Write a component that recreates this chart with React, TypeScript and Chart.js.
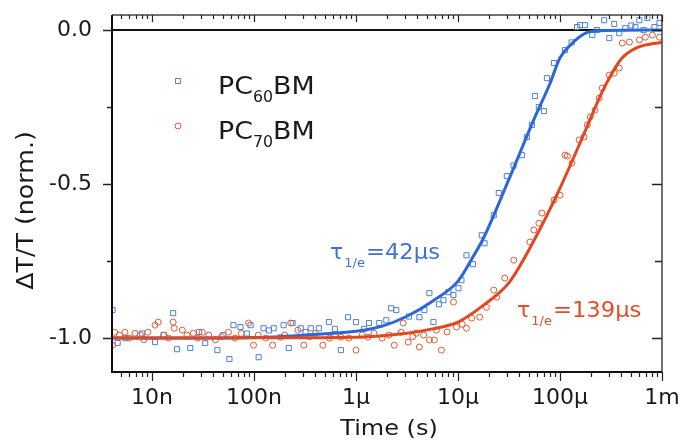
import React, { useEffect, useRef } from "react";
import { Chart, registerables } from "chart.js";

Chart.register(...registerables);

// ---- data (time in seconds, ΔT/T normalised) ----
const pc60Time = [
  4.1e-9, 4.6e-9, 1.07e-8, 1.61e-8, 1.76e-8, 2.37e-8, 3.32e-8, 4.37e-8, 5.74e-8, 6.28e-8,
  7.36e-8, 9.24e-8, 1.11e-7, 1.24e-7, 1.56e-7, 1.95e-7, 2.19e-7, 2.39e-7, 2.87e-7, 3.6e-7,
  4.32e-7, 5.42e-7, 7.11e-7, 8.34e-7, 1.0e-6, 1.34e-6, 1.69e-6, 1.98e-6, 2.21e-6, 2.48e-6,
  4.18e-6, 4.68e-6, 5.24e-6, 5.74e-6, 7.2e-6, 8.06e-6, 1.01e-5, 1.08e-5, 1.21e-5, 1.71e-5,
  1.82e-5, 2.24e-5, 2.51e-5, 3.01e-5, 4.23e-5, 4.73e-5, 5.3e-5, 5.68e-5, 6.95e-5, 7.44e-5,
  8.73e-5, 1.12e-4, 1.47e-4, 1.57e-4, 1.76e-4, 2.07e-4, 2.71e-4, 3.04e-4, 3.81e-4, 4.37e-4,
  5.48e-4, 6.0e-4, 7.19e-4, 8.43e-4, 9.45e-4,
  // points in the dense band along the fit
  5.5e-9, 8e-9, 1.3e-8, 2.9e-8, 5e-8, 8.5e-8, 1.4e-7, 3.2e-7, 6.2e-7, 1.2e-6,
  3.3e-6, 6.5e-6, 9e-6, 1.4e-5, 3.5e-5, 6.2e-5, 1.3e-4, 2.3e-4, 3.4e-4, 5e-4, 6.6e-4,
];
const pc60Value = [
  -0.909, -1.016, -1.013, -0.919, -1.036, -1.032, -1.016, -1.039, -1.068, -0.958,
  -0.964, -0.958, -1.062, -0.968, -0.968, -0.958, -1.032, -0.951, -0.968, -0.968,
  -0.968, -0.948, -1.039, -0.932, -0.948, -0.951, -0.951, -0.942, -0.903, -0.909,
  -0.932, -0.909, -0.854, -0.948, -0.877, -0.851, -0.838, -0.812, -0.731, -0.666,
  -0.692, -0.601, -0.529, -0.474, -0.406, -0.347, -0.308, -0.214, -0.263, -0.156,
  -0.107, -0.065, 0.01, 0.016, 0.016, -0.016, 0.032, -0.026, -0.01, 0.006,
  0.01, 0.032, 0.039, 0.01, 0.023,
  -1.0, -0.985, -0.99, -0.98, -0.99, -0.985, -0.975, -0.98, -0.97, -0.97,
  -0.93, -0.89, -0.86, -0.76, -0.44, -0.25, -0.04, 0.0, 0.02, 0.015, 0.0,
];
const pc70Time = [
  4.1e-9, 4.3e-9, 5.42e-9, 6.8e-9, 9.1e-9, 1.07e-8, 1.15e-8, 1.61e-8, 1.65e-8, 1.98e-8,
  2.54e-8, 3.11e-8, 4.18e-8, 5.61e-8, 8.83e-8, 9.89e-8, 1.52e-7, 1.82e-7, 2.29e-7, 2.69e-7,
  3.08e-7, 4.73e-7, 7.11e-7, 1.0e-6, 1.31e-6, 1.5e-6, 2.37e-6, 2.77e-6, 2.9e-6, 3.25e-6,
  3.9e-6, 4.18e-6, 5.24e-6, 5.86e-6, 6.14e-6, 6.88e-6, 9.03e-6, 9.66e-6, 1.21e-5, 1.36e-5,
  1.63e-5, 2.24e-5, 2.4e-5, 2.87e-5, 3.52e-5, 5.06e-5, 5.54e-5, 6.21e-5, 6.65e-5, 8.73e-5,
  1.0e-4, 1.12e-4, 1.18e-4, 1.31e-4, 1.54e-4, 1.72e-4, 1.85e-4, 1.98e-4, 2.21e-4, 2.42e-4,
  2.59e-4, 3.04e-4, 3.4e-4, 3.81e-4, 4.08e-4, 4.79e-4, 6.0e-4, 6.87e-4, 8.05e-4, 9.45e-4,
  // points in the dense band along the fit
  4.8e-9, 6e-9, 7.7e-9, 8.3e-9, 1.3e-8, 1.45e-8, 2.2e-8, 2.8e-8, 3.6e-8, 4.8e-8,
  6.5e-8, 7.5e-8, 1.1e-7, 1.3e-7, 2.0e-7, 3.5e-7, 4.0e-7, 5.5e-7, 6.2e-7, 8.5e-7,
  1.15e-6, 1.8e-6, 2.1e-6, 3.6e-6, 4.6e-6, 7.8e-6, 1.1e-5, 1.9e-5,
];
const pc70Value = [
  -1.023, -0.981, -0.981, -0.984, -0.981, -0.958, -0.948, -0.948, -0.968, -0.974,
  -0.984, -0.981, -1.006, -0.981, -0.951, -1.023, -1.023, -0.997, -0.951, -0.974,
  -1.023, -1.023, -0.997, -1.039, -0.997, -0.984, -1.023, -0.981, -0.951, -1.013,
  -0.984, -1.029, -1.006, -1.006, -0.974, -1.039, -0.883, -0.964, -0.968, -0.935,
  -0.932, -0.844, -0.867, -0.805, -0.747, -0.688, -0.649, -0.627, -0.594, -0.552,
  -0.536, -0.406, -0.409, -0.432, -0.357, -0.347, -0.308, -0.282, -0.26, -0.221,
  -0.188, -0.146, -0.14, -0.123, -0.042, -0.039, -0.032, -0.023, -0.016, -0.023,
  -0.99, -1.0, -0.99, -1.005, -0.99, -1.0, -0.99, -1.0, -0.99, -0.995,
  -1.0, -0.985, -0.99, -1.0, -0.99, -0.995, -0.985, -1.0, -0.99, -1.0,
  -0.99, -1.0, -0.99, -0.995, -0.99, -0.98, -0.955, -0.9,
];
const fit60Time = [
  4.05e-9, 1e-8, 1e-7, 3.16e-7, 1e-6, 1.78e-6, 3.16e-6, 5.62e-6, 1e-5, 1.41e-5,
  1.78e-5, 3.16e-5, 5.62e-5, 7.94e-5, 1e-4, 1.26e-4, 1.78e-4, 2.51e-4, 1e-3,
];
const fit60Value = [
  -1.0, -1.0, -0.998, -0.99, -0.978, -0.962, -0.929, -0.88, -0.815, -0.735,
  -0.675, -0.484, -0.286, -0.175, -0.09, -0.049, -0.01, -0.002, 0.0,
];
const fit70Time = [
  4.05e-9, 1e-8, 1e-7, 1e-6, 3.16e-6, 5.62e-6, 1e-5, 1.78e-5, 3.16e-5, 5.62e-5,
  1e-4, 1.78e-4, 2.51e-4, 3.16e-4, 3.98e-4, 5.62e-4, 1e-3,
];
const fit70Value = [
  -1.0, -1.0, -0.999, -0.997, -0.984, -0.97, -0.948, -0.893, -0.82, -0.68,
  -0.513, -0.325, -0.21, -0.146, -0.094, -0.058, -0.039,
];

const xTickValues = [1e-8, 1e-7, 1e-6, 1e-5, 1e-4, 1e-3];
const xTickLabels = ["10n", "100n", "1µ", "10µ", "100µ", "1m"];
const yTickValues = [-1, -0.5, 0];
const yTickLabels = ["-1.0", "-0.5", "0.0"];
const yMinorValues = [-1, -0.75, -0.5, -0.25, 0];

const legendParts = [
  ["PC", "60", "BM"],
  ["PC", "70", "BM"],
];
const tauParts = [
  ["τ", "1/e", "=42µs"],
  ["τ", "1/e", "=139µs"],
];
const xTitle = "Time (s)";
const yTitle = "ΔT/T (norm.)";

const BLUE_LINE = "#2c67d8";
const BLUE_MARK = "#4d80d6";
const BLUE_TEXT = "#4272d0";
const RED_LINE = "#e2471f";
const RED_MARK = "#e25a32";
const RED_TEXT = "#e24d2c";
const FONT = "'DejaVu Sans', sans-serif";

function toPoints(xs: number[], ys: number[]) {
  return xs.map((x, i) => ({ x, y: ys[i] }));
}

function stretchedText(
  ctx: CanvasRenderingContext2D,
  text: string,
  x: number,
  y: number,
  size: number,
  color: string,
  sx: number
) {
  ctx.save();
  ctx.font = `${size}px ${FONT}`;
  ctx.fillStyle = color;
  ctx.textAlign = "left";
  ctx.textBaseline = "alphabetic";
  ctx.translate(x, y);
  ctx.scale(sx, 1);
  ctx.fillText(text, 0, 0);
  const w = ctx.measureText(text).width * sx;
  ctx.restore();
  return w;
}

const decorPlugin = {
  id: "decor",
  beforeDatasetsDraw(chart: any) {
    const { ctx, chartArea: a, scales } = chart;
    const y0 = scales.y.getPixelForValue(0);
    ctx.save();
    ctx.strokeStyle = "#111";
    ctx.lineWidth = 2;
    ctx.beginPath();
    ctx.moveTo(a.left, y0);
    ctx.lineTo(a.right, y0);
    ctx.stroke();
    ctx.restore();
  },
  afterDraw(chart: any) {
    const { ctx, chartArea: a, scales } = chart;
    const xs = scales.x;
    const ys = scales.y;
    ctx.save();
    // frame
    ctx.strokeStyle = "#444";
    ctx.lineWidth = 1.5;
    ctx.beginPath();
    ctx.moveTo(a.left, a.top);
    ctx.lineTo(a.right, a.top);
    ctx.lineTo(a.right, a.bottom);
    ctx.stroke();
    ctx.strokeStyle = "#111";
    ctx.lineWidth = 2;
    ctx.beginPath();
    ctx.moveTo(a.left, a.top);
    ctx.lineTo(a.left, a.bottom);
    ctx.lineTo(a.right, a.bottom);
    ctx.stroke();

    // y ticks
    ctx.lineWidth = 1.5;
    ctx.strokeStyle = "#222";
    for (const v of yMinorValues) {
      const py = Math.round(ys.getPixelForValue(v)) + 0.5;
      const major = Math.abs(v * 2 - Math.round(v * 2)) < 1e-6;
      ctx.beginPath();
      ctx.moveTo(a.left - (major ? 9 : 5), py);
      ctx.lineTo(a.left, py);
      ctx.moveTo(a.right - (major ? 10 : 7), py);
      ctx.lineTo(a.right, py);
      ctx.stroke();
    }
    // x ticks (decades + minor)
    ctx.lineWidth = 1.2;
    for (let d = -9; d <= -3; d++) {
      for (let k = 1; k <= 9; k++) {
        const v = k * Math.pow(10, d);
        if (v < xs.min * 0.999 || v > xs.max * 1.001) continue;
        const px = Math.round(xs.getPixelForValue(v)) + 0.5;
        const major = k === 1;
        ctx.beginPath();
        ctx.moveTo(px, a.bottom);
        ctx.lineTo(px, a.bottom + (major ? 9 : 5));
        ctx.moveTo(px, a.top);
        ctx.lineTo(px, a.top + (major ? 7 : 4));
        ctx.stroke();
      }
    }
    ctx.restore();

    // axis titles
    ctx.save();
    ctx.font = `22px ${FONT}`;
    ctx.fillStyle = "#1a1a1a";
    ctx.textAlign = "center";
    ctx.textBaseline = "middle";
    ctx.translate((a.left + a.right) / 2 + 2, 429);
    ctx.scale(1.09, 1);
    ctx.fillText(xTitle, 0, 0);
    ctx.restore();

    ctx.save();
    ctx.font = `23px ${FONT}`;
    ctx.fillStyle = "#1a1a1a";
    ctx.textAlign = "center";
    ctx.textBaseline = "middle";
    ctx.translate(27, (a.top + a.bottom) / 2 + 17);
    ctx.rotate(-Math.PI / 2);
    ctx.scale(1.1, 1);
    ctx.fillText(yTitle, 0, 0);
    ctx.restore();

    // legend
    const legendColors = [BLUE_MARK, RED_MARK];
    const legendY = [94, 139];
    legendParts.forEach((parts, i) => {
      const markY = legendY[i] - 13;
      ctx.save();
      ctx.strokeStyle = legendColors[i];
      ctx.lineWidth = 1;
      ctx.beginPath();
      if (i === 0) ctx.rect(175.5, markY - 2.5, 5, 5);
      else ctx.arc(178, markY, 3, 0, Math.PI * 2);
      ctx.stroke();
      ctx.restore();
      let x = 218;
      x += stretchedText(ctx, parts[0], x, legendY[i], 24, "#1a1a1a", 1.12);
      x += stretchedText(ctx, parts[1], x, legendY[i] + 8, 15, "#1a1a1a", 1.05);
      stretchedText(ctx, parts[2], x, legendY[i], 24, "#1a1a1a", 1.12);
    });

    // tau annotations
    const tauPos = [
      [330, 259, BLUE_TEXT],
      [517, 317, RED_TEXT],
    ];
    tauParts.forEach((parts, i) => {
      const [tx, ty, col] = tauPos[i] as [number, number, string];
      let x = tx;
      x += stretchedText(ctx, parts[0], x, ty, 22, col, 1.0) + 1;
      x += stretchedText(ctx, parts[1], x, ty + 8, 13, col, 1.0) + 1;
      stretchedText(ctx, parts[2], x, ty, 22, col, 1.03);
    });
  },
};

export default function App() {
  const ref = useRef<HTMLCanvasElement | null>(null);
  useEffect(() => {
    if (!ref.current) return;
    const chart = new Chart(ref.current, {
      type: "scatter",
      data: {
        datasets: [
          {
            label: "PC70BM fit",
            data: toPoints(fit70Time, fit70Value),
            showLine: true,
            borderColor: RED_LINE,
            borderWidth: 3,
            pointRadius: 0,
            cubicInterpolationMode: "monotone",
            order: 0,
          },
          {
            label: "PC60BM fit",
            data: toPoints(fit60Time, fit60Value),
            showLine: true,
            borderColor: BLUE_LINE,
            borderWidth: 3,
            pointRadius: 0,
            cubicInterpolationMode: "monotone",
            order: 1,
          },
          {
            label: "PC60BM",
            data: toPoints(pc60Time, pc60Value),
            pointStyle: "rect",
            pointRadius: 3.6,
            borderWidth: 1,
            borderColor: BLUE_MARK,
            backgroundColor: "rgba(0,0,0,0)",
            order: 3,
          },
          {
            label: "PC70BM",
            data: toPoints(pc70Time, pc70Value),
            pointStyle: "circle",
            pointRadius: 3,
            borderWidth: 1,
            borderColor: RED_MARK,
            backgroundColor: "rgba(0,0,0,0)",
            order: 2,
          },
        ],
      },
      options: {
        animation: false,
        responsive: false,
        maintainAspectRatio: false,
        layout: { padding: { left: 0, right: 21, top: 15, bottom: 0 } },
        plugins: { legend: { display: false }, tooltip: { enabled: false } },
        scales: {
          x: {
            type: "logarithmic",
            min: 4.05e-9,
            max: 1e-3,
            border: { display: false },
            grid: { display: false, drawTicks: false, tickLength: 0 },
            afterBuildTicks: (s: any) => {
              s.ticks = xTickValues.map((v) => ({ value: v }));
            },
            afterFit: (s: any) => {
              s.height = 72;
              s.paddingLeft = 0;
              s.paddingRight = 0;
            },
            ticks: {
              autoSkip: false,
              maxRotation: 0,
              padding: 13,
              color: "#1a1a1a",
              font: { family: FONT, size: 22 },
              callback: (v: any) => {
                const i = xTickValues.findIndex((t) => Math.abs(t - v) / t < 1e-6);
                return i >= 0 ? xTickLabels[i] : "";
              },
            },
          },
          y: {
            type: "linear",
            min: -1.11,
            max: 0.049,
            border: { display: false },
            grid: { display: false, drawTicks: false, tickLength: 0 },
            afterBuildTicks: (s: any) => {
              s.ticks = yTickValues.map((v) => ({ value: v }));
            },
            afterFit: (s: any) => {
              s.width = 112;
              s.paddingTop = 0;
              s.paddingBottom = 0;
            },
            ticks: {
              padding: 20,
              color: "#1a1a1a",
              font: { family: FONT, size: 22 },
              callback: (v: any) => {
                const i = yTickValues.findIndex((t) => Math.abs(t - v) < 1e-6);
                return i >= 0 ? yTickLabels[i] : "";
              },
            },
          },
        },
      },
      plugins: [decorPlugin],
    } as any);
    return () => chart.destroy();
  }, []);

  return (
    <div style={{ position: "absolute", left: 0, top: 0, width: 683, height: 444, background: "#fff" }}>
      <canvas ref={ref} width={683} height={444} style={{ width: 683, height: 444, display: "block" }} />
    </div>
  );
}
